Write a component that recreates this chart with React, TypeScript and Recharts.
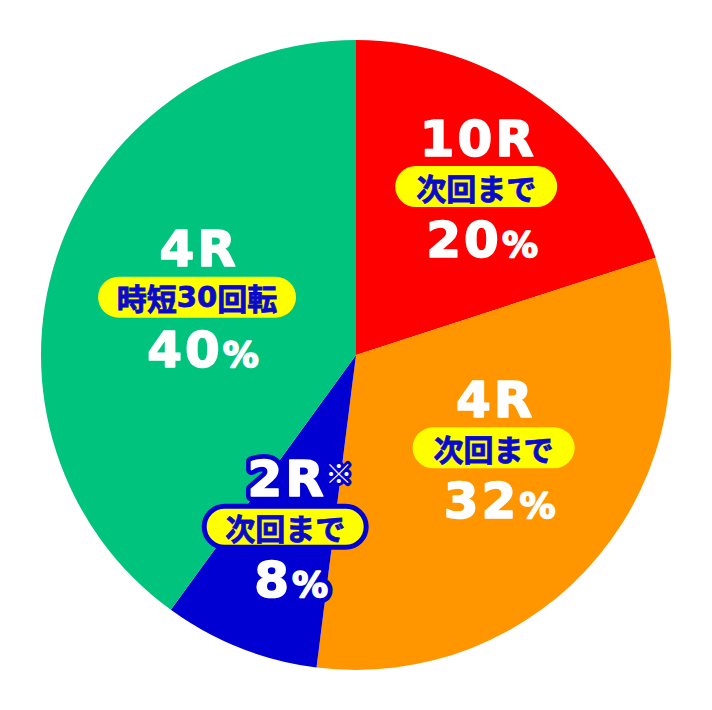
import React from 'react';
import { PieChart, Pie, Cell } from 'recharts';

const categories = ['10R', '4R', '2R', '4R'];
const subLabels = ['次回まで', '次回まで', '次回まで', '時短30回転'];
const notes = ['', '', '※', ''];
const values = [20, 32, 8, 40];
const sliceColors = ['#FF0000', '#FF9600', '#0000D2', '#00C47E'];

const data = categories.map((name, i) => ({
  name,
  sub: subLabels[i],
  note: notes[i],
  value: values[i],
}));

// label placement relative to each slice (radius ratio, angle offset in degrees)
const LABEL_LAYOUT = [
  { r: 0.657, dAngle: 0.5 },
  { r: 0.527, dAngle: 5.6 },
  { r: 0.59, dAngle: -0.8 },
  { r: 0.537, dAngle: -2 },
];

const RADIAN = Math.PI / 180;
const LATIN_FONT = '"DejaVu Sans", "Liberation Sans", sans-serif';
const CJK_FONT = '"Noto Sans CJK JP", "Noto Sans", sans-serif';
const PILL_TEXT = '#0A0ACC';

function textUnits(s: string) {
  let u = 0;
  for (const ch of s) u += ch.charCodeAt(0) < 256 ? 0.62 : 1;
  return u;
}

// split a string into runs of ASCII / non-ASCII characters
function runs(s: string) {
  const out: { ascii: boolean; text: string }[] = [];
  for (const ch of s) {
    const a = ch.charCodeAt(0) < 256;
    if (out.length && out[out.length - 1].ascii === a) out[out.length - 1].text += ch;
    else out.push({ ascii: a, text: ch });
  }
  return out;
}

function BigText({ x, y, outlineColor, children }: any) {
  const common: any = {
    x,
    y,
    textAnchor: 'middle',
    fontFamily: LATIN_FONT,
    fontWeight: 700,
    fontSize: 50,
    letterSpacing: 3,
    strokeLinejoin: 'round',
  };
  return (
    <g>
      {outlineColor && (
        <text {...common} fill={outlineColor} stroke={outlineColor} strokeWidth={11}>
          {children}
        </text>
      )}
      <text {...common} fill="#FFFFFF" stroke="#FFFFFF" strokeWidth={1.6}>
        {children}
      </text>
    </g>
  );
}

function renderLabel(props: any) {
  const { cx, cy, midAngle, outerRadius, index } = props;
  const layout = LABEL_LAYOUT[index];
  const ang = (midAngle + layout.dAngle) * RADIAN;
  const r = outerRadius * layout.r;
  const px = cx + r * Math.cos(-ang);
  const py = cy + r * Math.sin(-ang);
  const d = data[index];
  const outlined = d.note !== '';
  const oc = outlined ? sliceColors[index] : undefined;
  const pillFont = 30;
  const pillW = textUnits(d.sub) * 29 + 46;
  const pillH = 41;
  return (
    <g key={`lbl-${index}`}>
      <BigText x={px + 2} y={py - 31} outlineColor={oc}>
        {d.name}
      </BigText>
      {d.note && (
        <text
          x={px + 40}
          y={py - 43}
          textAnchor="start"
          fill="#FFFFFF"
          fontFamily={CJK_FONT}
          fontWeight={700}
          fontSize={27}
          stroke={sliceColors[index]}
          strokeWidth={6}
          paintOrder="stroke"
          strokeLinejoin="round"
        >
          {d.note}
        </text>
      )}
      <rect
        x={px - pillW / 2}
        y={py - pillH / 2}
        width={pillW}
        height={pillH}
        rx={pillH / 2}
        ry={pillH / 2}
        fill="#FFFF00"
        stroke={outlined ? sliceColors[index] : 'none'}
        strokeWidth={outlined ? 5 : 0}
      />
      <text
        x={px}
        y={py}
        textAnchor="middle"
        dominantBaseline="central"
        fill={PILL_TEXT}
        stroke={PILL_TEXT}
        strokeWidth={0.8}
        fontFamily={CJK_FONT}
        fontWeight={700}
        fontSize={pillFont}
      >
        {runs(d.sub).map((run, k) =>
          run.ascii ? (
            <tspan key={k} fontFamily={LATIN_FONT} fontSize={29}>
              {run.text}
            </tspan>
          ) : (
            <tspan key={k}>{run.text}</tspan>
          )
        )}
      </text>
      <BigText x={px + 6} y={py + 70} outlineColor={oc}>
        {String(d.value)}
        <tspan fontSize={36} letterSpacing={0}>%</tspan>
      </BigText>
    </g>
  );
}

export default function App() {
  return (
    <div style={{ position: 'absolute', left: 0, top: 0, width: 712, height: 710, background: '#FFFFFF' }}>
      <PieChart width={712} height={710} margin={{ top: 0, right: 0, bottom: 0, left: 0 }}>
        <Pie
          data={data}
          dataKey="value"
          nameKey="name"
          cx={356}
          cy={355}
          outerRadius={315}
          innerRadius={0}
          startAngle={90}
          endAngle={-270}
          stroke="none"
          label={renderLabel}
          labelLine={false}
          isAnimationActive={false}
        >
          {data.map((d, i) => (
            <Cell key={`c-${i}`} fill={sliceColors[i]} stroke="none" />
          ))}
        </Pie>
      </PieChart>
    </div>
  );
}
